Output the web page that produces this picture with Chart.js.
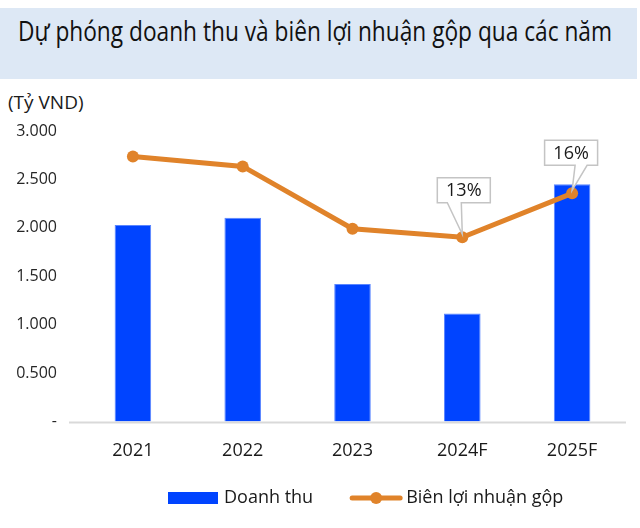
<!DOCTYPE html>
<html><head><meta charset="utf-8">
<script src="https://cdn.jsdelivr.net/npm/chart.js@4"></script>
<style>
html,body{margin:0;padding:0;background:#fff;}
#wrap{position:relative;width:640px;height:528px;overflow:hidden;}
#band{position:absolute;left:0;top:8px;width:637px;height:71px;background:#dde8f5;}
#title{position:absolute;left:18px;top:11px;font-family:'Open Sans';font-size:28px;line-height:normal;color:#111;white-space:nowrap;transform-origin:0 0;}
#unit{position:absolute;left:8px;top:89px;font-family:'Open Sans';font-size:19px;font-weight:500;line-height:normal;color:#1a1a1a;}
canvas{position:absolute;left:0;top:0;}
</style></head>
<body><div id="wrap"><div id="band"></div><div id="title">Dự phóng doanh thu và biên lợi nhuận gộp qua các năm</div><div id="unit">(Tỷ VND)</div><canvas id="c" width="640" height="528"></canvas></div>
<script>
const categories = ['2021', '2022', '2023', '2024F', '2025F'];
const revenue = [2030, 2105, 1420, 1115, 2450];
const grossMargin = [18.7, 18.0, 13.6, 13.0, 16.1];
const marginLabels = ['', '', '', '13%', '16%'];
const yTickLabels = ['-', '0.500', '1.000', '1.500', '2.000', '2.500', '3.000'];
const seriesNames = ['Doanh thu', 'Biên lợi nhuận gộp'];

const BLUE = '#0044ff';
const ORANGE = '#e0832a';
const FONT = '"Open Sans", "Noto Sans", sans-serif';

// fit title width
(function(){
  const t = document.getElementById('title');
  const w = t.getBoundingClientRect().width;
  t.style.transform = 'scaleX(' + (594 / w) + ')';
})();

const calloutStyle = {
  3: {dx: 1.5, gap: 34.5, b1: -15, b2: -1},
  4: {dx: -1, gap: 28, b1: 3, b2: 15}
};

const baselinePlugin = {
  id: 'baseline',
  beforeDatasetsDraw(chart) {
    const {ctx, chartArea} = chart;
    const y = chart.scales.y.getPixelForValue(0);
    ctx.save();
    ctx.strokeStyle = '#d9d9d9';
    ctx.lineWidth = 2;
    ctx.beginPath();
    ctx.moveTo(chartArea.left - 9, y + 1);
    ctx.lineTo(chartArea.right - 1, y + 1);
    ctx.stroke();
    ctx.restore();
  }
};

const calloutPlugin = {
  id: 'callouts',
  afterDatasetsDraw(chart) {
    const meta = chart.getDatasetMeta(1);
    const ctx = chart.ctx;
    marginLabels.forEach((txt, i) => {
      if (!txt) return;
      const pt = meta.data[i];
      const st = calloutStyle[i];
      const w = 53, h = 25;
      const cx = pt.x + st.dx;
      const bottom = pt.y - st.gap;
      const left = cx - w / 2, top = bottom - h;
      ctx.save();
      ctx.fillStyle = '#fff';
      ctx.strokeStyle = '#c4c4c4';
      ctx.lineWidth = 1.5;
      ctx.lineJoin = 'miter';
      ctx.beginPath();
      ctx.moveTo(left, top);
      ctx.lineTo(left + w, top);
      ctx.lineTo(left + w, bottom);
      ctx.lineTo(pt.x + st.b2, bottom);
      ctx.lineTo(pt.x, pt.y - 3);
      ctx.lineTo(pt.x + st.b1, bottom);
      ctx.lineTo(left, bottom);
      ctx.closePath();
      ctx.fill();
      ctx.stroke();
      ctx.fillStyle = '#1a1a1a';
      ctx.font = '18px ' + FONT;
      ctx.textAlign = 'center';
      ctx.textBaseline = 'middle';
      ctx.fillText(txt, cx, top + h / 2 + 1);
      ctx.restore();
    });
  }
};

const legendPlugin = {
  id: 'customLegend',
  afterDraw(chart) {
    const ctx = chart.ctx;
    const ds0 = chart.data.datasets[0], ds1 = chart.data.datasets[1];
    ctx.save();
    ctx.font = '18px ' + FONT;
    ctx.textBaseline = 'middle';
    ctx.textAlign = 'left';
    const y = 498;
    let x = 168;
    ctx.fillStyle = ds0.backgroundColor;
    ctx.fillRect(x, y - 6, 50, 12);
    x += 56;
    ctx.fillStyle = '#1a1a1a';
    ctx.fillText(ds0.label, x, y);
    x += ctx.measureText(ds0.label).width + 37;
    ctx.strokeStyle = ds1.borderColor;
    ctx.lineWidth = 5;
    ctx.lineCap = 'round';
    ctx.beginPath();
    ctx.moveTo(x + 2, y);
    ctx.lineTo(x + 50, y);
    ctx.stroke();
    ctx.beginPath();
    ctx.arc(x + 26, y, 6, 0, Math.PI * 2);
    ctx.fillStyle = ds1.borderColor;
    ctx.fill();
    x += 56;
    ctx.fillStyle = '#1a1a1a';
    ctx.fillText(ds1.label, x, y);
    ctx.restore();
  }
};

function build() {
  new Chart(document.getElementById('c'), {
    data: {
      labels: categories,
      datasets: [
        {
          type: 'bar',
          label: seriesNames[0],
          data: revenue,
          backgroundColor: BLUE,
          borderColor: '#5a86ff',
          borderWidth: 1,
          barPercentage: 0.333,
          categoryPercentage: 1,
          yAxisID: 'y',
          order: 1
        },
        {
          type: 'line',
          label: seriesNames[1],
          data: grossMargin,
          borderColor: ORANGE,
          backgroundColor: ORANGE,
          borderWidth: 5,
          pointRadius: 6,
          pointHoverRadius: 6,
          pointBackgroundColor: ORANGE,
          pointBorderWidth: 0,
          tension: 0,
          yAxisID: 'y2',
          order: 0
        }
      ]
    },
    options: {
      responsive: false,
      animation: false,
      devicePixelRatio: 1,
      layout: {padding: {top: 131, right: 13, bottom: 47, left: 0}},
      plugins: {
        legend: {display: false},
        tooltip: {enabled: false}
      },
      scales: {
        x: {
          grid: {display: false, drawTicks: false},
          border: {display: false},
          ticks: {font: {family: FONT, size: 18}, color: '#1a1a1a', padding: 19}
        },
        y: {
          min: 0, max: 3000,
          grid: {display: false, drawTicks: false},
          border: {display: false},
          ticks: {
            stepSize: 500,
            font: {family: FONT, size: 16},
            color: '#262626',
            padding: 21,
            callback: (v, i) => yTickLabels[i]
          },
          afterFit: (s) => { s.width = 78; }
        },
        y2: {
          display: false,
          position: 'right',
          min: 0, max: 20.5
        }
      }
    },
    plugins: [baselinePlugin, calloutPlugin, legendPlugin]
  });
}

Promise.all([
  document.fonts.load('18px "Open Sans"'),
  document.fonts.load('16px "Open Sans"')
]).then(build, build);
</script>
</body></html>
